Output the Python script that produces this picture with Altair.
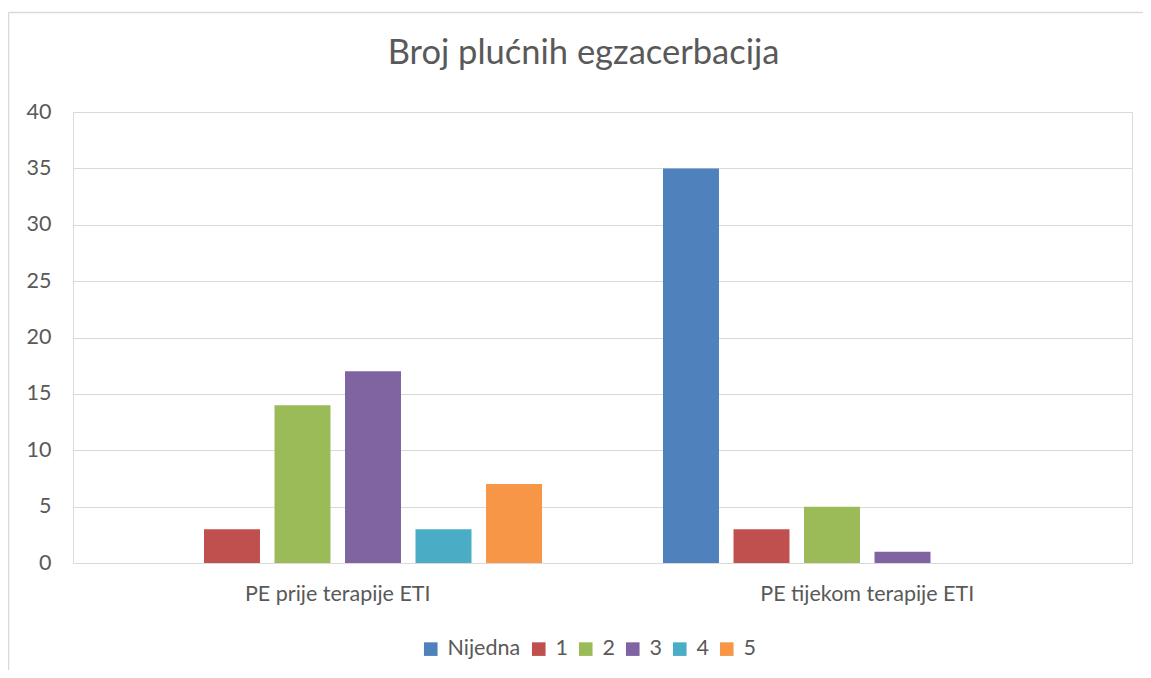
import altair as alt
import pandas as pd

title_text = "Broj plućnih egzacerbacija"
groups = ["PE prije terapije ETI", "PE tijekom terapije ETI"]
series = ["Nijedna", "1", "2", "3", "4", "5"]
prije = [0, 3, 14, 17, 3, 7]
tijekom = [35, 3, 5, 1, 0, 0]
colors = ["#4F81BD", "#C0504D", "#9BBB59", "#8064A2", "#4BACC6", "#F79646"]
y_ticks = [0, 5, 10, 15, 20, 25, 30, 35, 40]

rows = []
for g, vals in zip(groups, [prije, tijekom]):
    for s, v in zip(series, vals):
        rows.append({"group": g, "series": s, "value": v})
df = pd.DataFrame(rows)
one = pd.DataFrame({"title": [title_text]})

FONT = "Lato"
TXT = "#595959"
GRID = "#D9D9D9"
LFS = 21.5

bars = alt.Chart(df).mark_bar().encode(
    x=alt.X("group:N", sort=groups,
            scale=alt.Scale(paddingInner=0, paddingOuter=0),
            axis=alt.Axis(title=None, labelAngle=0, labelFontSize=LFS, labelColor=TXT,
                          labelFont=FONT, labelPadding=20, labelLimit=500,
                          ticks=False, tickSize=0, domainColor=GRID, domainWidth=1)),
    xOffset=alt.XOffset("series:N", sort=series,
                        scale=alt.Scale(paddingInner=0.206, paddingOuter=0.858)),
    y=alt.Y("value:Q", scale=alt.Scale(domain=[0, 40], nice=False),
            axis=alt.Axis(title=None, values=y_ticks, labelFontSize=LFS, labelColor=TXT,
                          labelFont=FONT, labelPadding=22, ticks=False, tickSize=0,
                          domain=False, gridColor=GRID, gridWidth=1)),
    color=alt.Color("series:N", sort=series,
                    scale=alt.Scale(domain=series, range=colors),
                    legend=alt.Legend(title=None, orient="none", direction="horizontal",
                                      legendX=347, legendY=526, symbolType="square",
                                      symbolSize=185, symbolStrokeWidth=0,
                                      labelFontSize=LFS, labelColor=TXT, labelFont=FONT,
                                      labelOffset=6, columnPadding=7)),
)

frame = alt.Chart(one).mark_rule(color=GRID, strokeWidth=1.5).encode(
    x=alt.value(-64.5), x2=alt.value(-64.5), y=alt.value(-99.5), y2=alt.value(700)
)
frame_top = alt.Chart(one).mark_rule(color=GRID, strokeWidth=1.5).encode(
    x=alt.value(-64.5), x2=alt.value(1200), y=alt.value(-99.5), y2=alt.value(-99.5)
)
title = alt.Chart(one).mark_text(
    fontSize=34.5, font=FONT, color=TXT, align="center", baseline="alphabetic",
    fontWeight="normal"
).encode(x=alt.value(510.5), y=alt.value(-48), text="title:N")

chart = alt.layer(bars, frame, frame_top, title).properties(
    width=1059, height=451,
    autosize=alt.AutoSizeParams(type="none"),
    padding={"left": 65, "top": 104, "right": 11, "bottom": 107},
).configure_view(stroke=None).configure(background="white")

chart.save("out.html", embed_options={"renderer": "svg", "actions": False})
